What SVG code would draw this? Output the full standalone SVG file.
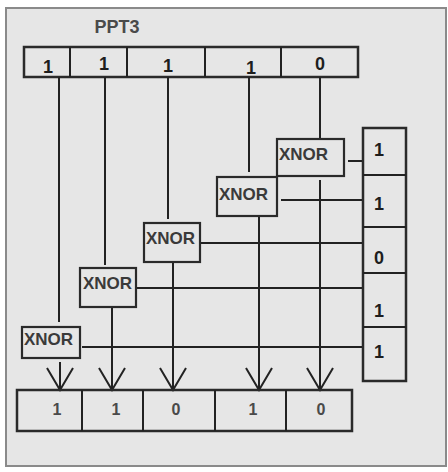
<svg xmlns="http://www.w3.org/2000/svg" width="448" height="472" viewBox="0 0 448 472">
<defs>
<style>
.box{fill:none;stroke:#2a2a2a;stroke-width:2.5}
.ln{fill:none;stroke:#222;stroke-width:2}
.gate{fill:#e6e6e6;stroke:#2a2a2a;stroke-width:2.2}
.bit{font-family:"Liberation Sans",Arial,sans-serif;font-weight:bold;font-size:18px;fill:#1e1e1e;text-anchor:middle}
.obit{font-family:"Liberation Sans",Arial,sans-serif;font-weight:bold;font-size:16px;fill:#4a4a4a;text-anchor:middle}
.gt{font-family:"Liberation Sans",Arial,sans-serif;font-weight:bold;font-size:17px;fill:#3a3a3a}
</style>
<marker id="v" viewBox="-24 -14 26 28" markerWidth="26" markerHeight="28" refX="0" refY="0" orient="auto" markerUnits="userSpaceOnUse">
<path d="M-22,-13 L0,0 L-22,13" fill="none" stroke="#222" stroke-width="2"/>
</marker>
</defs>
<rect x="0" y="0" width="448" height="472" fill="#ffffff"/>
<rect x="6" y="8" width="440" height="458" fill="#e6e6e6" stroke="#8a8a8a" stroke-width="2"/>
<text x="117" y="33" font-family="Liberation Sans,Arial,sans-serif" font-weight="bold" font-size="18" fill="#4a4a4a" text-anchor="middle">PPT3</text>
<g id="input-register">
<rect class="box" x="24" y="47" width="334" height="30"/>
<path class="ln" d="M70,47V77M127,47V77M205,47V77M281,47V77" stroke-width="2.5"/>
<text class="bit" x="48" y="73">1</text>
<text class="bit" x="104" y="70">1</text>
<text class="bit" x="168" y="72">1</text>
<text class="bit" x="251" y="74">1</text>
<text class="bit" x="320" y="70">0</text>
</g>
<g id="connectors">
<path class="ln" d="M59,77V322M105,77V265M168,77V219M249,77V172M320,77V139"/>
<path class="ln" d="M348,161H363M281,200H363M200,243H363M136,288H363M82,347H363"/>
<path class="ln" marker-end="url(#v)" d="M60,362V390"/>
<path class="ln" marker-end="url(#v)" d="M112,307V390"/>
<path class="ln" marker-end="url(#v)" d="M173,262V390"/>
<path class="ln" marker-end="url(#v)" d="M259,216V390"/>
<path class="ln" marker-end="url(#v)" d="M320,180V390"/>
</g>
<g id="xnor5"><rect class="gate" x="277" y="139" width="67" height="37"/><text class="gt" x="279" y="160">XNOR</text></g>
<g id="xnor4"><rect class="gate" x="217" y="177" width="60" height="39"/><text class="gt" x="219" y="200">XNOR</text></g>
<g id="xnor3"><rect class="gate" x="144" y="223" width="56" height="39"/><text class="gt" x="146" y="244">XNOR</text></g>
<g id="xnor2"><rect class="gate" x="80" y="268" width="56" height="39"/><text class="gt" x="83" y="289">XNOR</text></g>
<g id="xnor1"><rect class="gate" x="22" y="327" width="58" height="31"/><text class="gt" x="24" y="345">XNOR</text></g>
<g id="key-register">
<rect class="box" x="363" y="128" width="43" height="253"/>
<path class="ln" d="M363,175H406M363,227H406M363,273H406M363,327H406" stroke-width="2.5"/>
<text class="bit" x="379" y="156">1</text>
<text class="bit" x="379" y="210">1</text>
<text class="bit" x="379" y="264">0</text>
<text class="bit" x="379" y="317">1</text>
<text class="bit" x="379" y="358">1</text>
</g>
<g id="output-register">
<rect class="box" x="17" y="390" width="335" height="41"/>
<path class="ln" d="M82,390V431M143,390V431M215,390V431M286,390V431" stroke-width="2.5"/>
<text class="obit" x="57" y="415">1</text>
<text class="obit" x="116" y="415">1</text>
<text class="obit" x="176" y="415">0</text>
<text class="obit" x="253" y="415">1</text>
<text class="obit" x="321" y="415">0</text>
</g>
</svg>
